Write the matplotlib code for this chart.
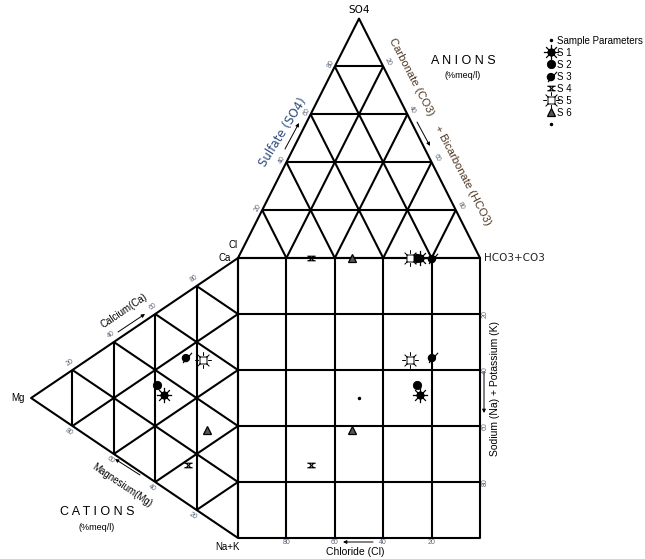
import numpy as np
import matplotlib
matplotlib.use("Agg")
import matplotlib.pyplot as plt
from matplotlib.path import Path
from matplotlib.lines import Line2D

plt.rcParams['font.family'] = ['Liberation Sans', 'DejaVu Sans']

# ---- water chemistry (% meq/l) ----
samples = ["S 1", "S 2", "S 3", "S 4", "S 5", "S 6"]
ca = [33, 35, 52, 14, 55, 31]
mg = [36, 39, 25, 24, 17, 15]
na_k = [31, 26, 23, 62, 28, 54]
cl = [25, 26, 20, 70, 29, 53]
so4 = [0, 0, 0, 0, 0, 0]
hco3_co3 = [75, 74, 80, 30, 71, 47]

# reference point of the sample parameters in the central field
param_cl = 50
param_na_k = 50

grid_ticks = [20, 40, 60, 80]

# ---- geometry (data units, square = 100 x 100) ----
H = 85.5
CL_V, HCO3_V, SO4_V = np.array([0, 100.]), np.array([100, 100.]), np.array([50, 100 + H])
CA_V, NA_V, MG_V = np.array([0, 100.]), np.array([0, 0.]), np.array([-H, 50.])
ANION_V = [CL_V, SO4_V, HCO3_V]
CATION_V = [CA_V, MG_V, NA_V]


def bary(w, verts):
    w = np.asarray(w, float)
    return sum(wi * v for wi, v in zip(w, verts)) / w.sum()


W, Hpx = 645, 559
fig = plt.figure(figsize=(W / 100, Hpx / 100), dpi=100)
ax = fig.add_axes([0, 0, 1, 1])
ax.set_xlim(-238 / 2.42, (W - 238) / 2.42)
ax.set_ylim((538 - Hpx) / 2.8, 538 / 2.8)
ax.axis('off')

LW = 1.5
line_kw = dict(color='black', lw=LW, solid_capstyle='butt', zorder=1)


def tri_grid(verts):
    # outline
    pts = np.array(verts + [verts[0]])
    ax.plot(pts[:, 0], pts[:, 1], **line_kw)
    for i in range(3):
        j, k = [n for n in range(3) if n != i]
        for t in grid_ticks:
            w1 = np.zeros(3); w1[i] = t; w1[j] = 100 - t
            w2 = np.zeros(3); w2[i] = t; w2[k] = 100 - t
            p1, p2 = bary(w1, verts), bary(w2, verts)
            ax.plot([p1[0], p2[0]], [p1[1], p2[1]], **line_kw)


tri_grid(ANION_V)
tri_grid(CATION_V)

# central square
ax.plot([0, 100, 100, 0, 0], [0, 0, 100, 100, 0], **line_kw)
for t in grid_ticks:
    ax.plot([t, t], [0, 100], **line_kw)
    ax.plot([0, 100], [t, t], **line_kw)


# ---- marker shapes ----
def circle(r, c=(0, 0)):
    p = Path.unit_circle()
    return Path(p.vertices * r + np.array(c), p.codes)


def rays(r0, r1, n=8):
    verts, codes = [], []
    for a in np.linspace(0, 2 * np.pi, n, endpoint=False):
        verts += [(r0 * np.cos(a), r0 * np.sin(a)), (r1 * np.cos(a), r1 * np.sin(a))]
        codes += [Path.MOVETO, Path.LINETO]
    return Path(verts, codes)


def segs(pairs):
    verts, codes = [], []
    for a, b in pairs:
        verts += [a, b]
        codes += [Path.MOVETO, Path.LINETO]
    return Path(verts, codes)


m_burst = Path.make_compound_path(circle(0.45), rays(0.0, 1.0))
m_slash = Path.make_compound_path(circle(0.62, (-0.1, -0.1)),
                                  segs([((-0.6, -0.95), (0.95, 0.8))]))
m_hour = segs([((-1, 0.55), (1, 0.55)), ((-1, -0.55), (1, -0.55)),
               ((-0.6, 0.55), (0.6, -0.55)), ((0.6, 0.55), (-0.6, -0.55))])
sq = Path([(-0.42, -0.42), (0.42, -0.42), (0.42, 0.42), (-0.42, 0.42), (-0.42, -0.42)],
          [Path.MOVETO, Path.LINETO, Path.LINETO, Path.LINETO, Path.CLOSEPOLY])
m_sun = Path.make_compound_path(sq, rays(0.55, 1.0))

styles = [
    dict(marker=m_burst, ms=11, mfc='black', mec='black', mew=0.9),
    dict(marker='o', ms=6, mfc='black', mec='black', mew=0.6),
    dict(marker=m_slash, ms=8, mfc='black', mec='black', mew=0.8),
    dict(marker=m_hour, ms=6, mfc='none', mec='black', mew=0.8),
    dict(marker=m_sun, ms=12, mfc='white', mec='black', mew=0.7),
    dict(marker='^', ms=5.5, mfc='#555555', mec='black', mew=0.9),
]

for i in range(len(samples)):
    pa = bary([cl[i], so4[i], hco3_co3[i]], ANION_V)
    pc = bary([ca[i], mg[i], na_k[i]], CATION_V)
    ps = (pa[0], pc[1])
    for p in (pa, pc, ps):
        ax.plot(p[0], p[1], ls='none', zorder=3, **styles[i])

ax.plot(100 - param_cl, 100 - param_na_k, ls='none', marker='.', ms=3, color='black', zorder=3)

# ---- legend ----
handles = [Line2D([], [], ls='none', marker='.', ms=3, color='black')]
handles += [Line2D([], [], ls='none', **s) for s in styles]
handles += [Line2D([], [], ls='none', marker='.', ms=3, color='black')]
labels = ["Sample Parameters"] + samples + [" "]
ax.legend(handles, labels, loc='upper left', bbox_to_anchor=(541 / W, 1 - 31 / Hpx),
          bbox_transform=fig.transFigure, frameon=False, fontsize=7,
          handlelength=1.0, handletextpad=0.1, labelspacing=0.2, borderpad=0)


# ---- text helpers (figure pixel positions) ----
def ftxt(x, y, s, **kw):
    kw.setdefault('ha', 'center')
    kw.setdefault('va', 'center')
    fig.text(x / W, 1 - y / Hpx, s, **kw)


def farrow(x0, y0, x1, y1, color='black'):
    ax.annotate('', xy=(x1 / W, 1 - y1 / Hpx), xytext=(x0 / W, 1 - y0 / Hpx),
                xycoords='figure fraction', textcoords='figure fraction',
                arrowprops=dict(arrowstyle='-|>', lw=0.7, color=color,
                                mutation_scale=5, shrinkA=0, shrinkB=0))


tick_col = '#5a6678'
sulf_col = '#2c4a7c'
carb_col = '#4e3722'

ftxt(359, 10, 'SO4', fontsize=7.5, family='DejaVu Sans')
ftxt(463, 61, 'A N I O N S', fontsize=9)
ftxt(463, 75, '(%meq/l)', fontsize=6.5)
ftxt(97, 512, 'C A T I O N S', fontsize=9)
ftxt(97, 527, '(%meq/l)', fontsize=6.5)
ftxt(233, 245, 'Cl', fontsize=7)
ftxt(225, 258, 'Ca', fontsize=7)
ftxt(484, 258, 'HCO3+CO3', fontsize=7.5, ha='left', family='DejaVu Sans', color='#222222')
ftxt(18, 398, 'Mg', fontsize=7)
ftxt(228, 547, 'Na+K', fontsize=7)

ftxt(283, 132, 'Sulfate (SO4)', fontsize=8.5, rotation=58, family='DejaVu Sans', color=sulf_col)
farrow(285, 149, 299, 123)
ftxt(440, 132, 'Carbonate (CO3)    + Bicarbonate (HCO3)', fontsize=8, rotation=-62.5, color=carb_col)
farrow(417, 122, 430, 146)

ftxt(124, 311, 'Calcium(Ca)', fontsize=7, rotation=34)
farrow(118, 332, 145, 314)
ftxt(122, 485, 'Magnesium(Mg)', fontsize=7, rotation=-34)
farrow(140, 475, 115, 459)

ftxt(355, 552, 'Chloride (Cl)', fontsize=7.5)
farrow(373, 542, 343, 542)
ftxt(495, 388, 'Sodium (Na) + Potassium (K)', fontsize=7.5, rotation=90)
farrow(484, 372, 484, 413)

# ---- tick values ----
tk = dict(fontsize=5, color=tick_col)
for t in grid_ticks:
    # square: chloride along the bottom, sodium + potassium down the right side
    x = 238 + 2.42 * (100 - t)
    ftxt(x, 542, str(t), **tk)
    y = 538 - 2.8 * (100 - t)
    ftxt(485, y, str(t), rotation=90, **tk)
    # anion triangle: sulfate (left edge), carbonate + bicarbonate (right edge)
    yl = 258 - 2.4 * t
    ftxt(238 + 1.21 * t - 4, yl - 2, str(t), rotation=63, **tk)
    yr = 18 + 2.4 * t
    ftxt(359 + 1.21 * t + 5, yr - 4, str(t), rotation=-63, **tk)
    # cation triangle: calcium (upper edge), magnesium (lower edge)
    xc = 32 + 2.06 * t
    yc = 398 - 1.40 * t
    ftxt(xc - 3, yc - 7, str(t), rotation=34, **tk)
    xm = 238 - 2.06 * t
    ym = 538 - 1.40 * t
    ftxt(xm - 4, ym + 6, str(t), rotation=-34, **tk)

fig.savefig('out.png', dpi=100)
